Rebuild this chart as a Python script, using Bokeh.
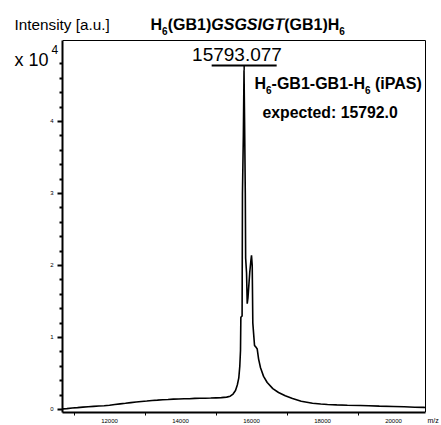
from bokeh.plotting import figure
from bokeh.models import Range1d, FixedTicker, Label
from bokeh.embed import file_html
from bokeh.resources import INLINE

# ---- data ----
mz = [10676, 10800, 10950, 11100, 11250, 11400, 11550, 11700, 11850, 12000,
      12150, 12300, 12450, 12600, 12750, 12900, 13050, 13200, 13350, 13500,
      13650, 13800, 13950, 14100, 14250, 14400, 14550, 14700, 14850, 15000,
      15150, 15300, 15400, 15480, 15549, 15600, 15642, 15670, 15690, 15700,
      15735, 15745, 15770, 15789, 15805, 15825, 15835, 15860, 15879, 15900,
      15950, 15985, 16000, 16020, 16037, 16060, 16085, 16120, 16161, 16200,
      16254, 16340, 16442, 16600, 16761, 16950, 17155, 17400, 17718, 17950,
      18141, 18400, 18700, 19070, 19300, 19600, 20000, 20300, 20600, 20845,
      20901]
intensity = [80, 120, 200, 260, 330, 380, 430, 480, 520, 580,
             690, 780, 860, 960, 1040, 1120, 1180, 1260, 1300, 1360,
             1390, 1440, 1460, 1500, 1490, 1540, 1560, 1570, 1590, 1620,
             1650, 1720, 1850, 2150, 2640, 3400, 4400, 6000, 8200, 12800,
             13000, 30000, 38000, 47100, 40000, 30000, 21000, 19000, 14700, 15500,
             19000, 20800, 21400, 20000, 12000, 10500, 8900, 8700, 8400, 7000,
             5800, 4600, 3750, 2900, 2360, 1900, 1530, 1150, 860, 760,
             700, 640, 590, 550, 520, 470, 420, 380, 320, 290,
             280]

x_major = [12000, 14000, 16000, 18000, 20000]
x_minor = [11000, 13000, 15000, 17000, 19000]
y_major = [0, 10000, 20000, 30000, 40000]
y_labels = ["0", "1", "2", "3", "4"]
y_minor = [v for v in range(2000, 50000, 2000) if v % 10000 != 0]

peak_mz = 15793.077
peak_label = "15793.077"

# plotted box limits (data)
X0, X1 = 10676, 20901
Y0, Y1 = -417, 51250

FONT = "Liberation Sans"
W, H = 441, 425
# page positions of the drawn box
BL, BR, BT, BB = 62, 425, 40, 412
# frame (clip area) is larger so that texts above the box are not clipped
FTOP, FRIGHT = 18, 427
XE = X0 + (FRIGHT - BL) / (BR - BL) * (X1 - X0)
YE = Y0 + (BB - FTOP) / (BB - BT) * (Y1 - Y0)

p = figure(width=W, height=H, output_backend="svg", toolbar_location=None,
           x_range=Range1d(X0, XE), y_range=Range1d(Y0, YE),
           min_border_left=BL, min_border_right=W - FRIGHT,
           min_border_top=FTOP, min_border_bottom=H - BB)
p.title.visible = False
p.background_fill_color = "white"
p.border_fill_color = "white"
p.outline_line_color = None
p.grid.visible = False

def dx(px):
    return X0 + (px - BL) / (BR - BL) * (X1 - X0)
def dy(py):
    return Y0 + (BB - py) / (BB - BT) * (Y1 - Y0)

xa = p.xaxis[0]
xa.bounds = (X0, X1)
xa.ticker = FixedTicker(ticks=x_major, minor_ticks=x_minor)
xa.axis_line_width = 2
xa.major_tick_out = 0
xa.major_tick_in = 0
xa.minor_tick_out = 3
xa.minor_tick_in = 0
xa.major_label_standoff = 3
xa.major_label_text_font = FONT
xa.major_label_text_font_size = "6px"
xa.major_label_text_color = "black"

ya = p.yaxis[0]
ya.bounds = (Y0, Y1)
ya.ticker = FixedTicker(ticks=y_major, minor_ticks=y_minor)
ya.major_label_overrides = dict(zip(y_major, y_labels))
ya.axis_line_width = 2
ya.major_tick_out = 5
ya.major_tick_in = 0
ya.major_tick_line_width = 2
ya.minor_tick_out = 3
ya.minor_tick_in = 0
ya.minor_tick_line_width = 2
ya.major_label_standoff = 4
ya.major_label_text_font = FONT
ya.major_label_text_font_size = "6px"
ya.major_label_text_color = "black"

# top and right edges of the box
p.segment(x0=[X0, X1], y0=[Y1, Y0], x1=[X1, X1], y1=[Y1, Y1],
          line_color="black", line_width=1)

p.line(mz, intensity, line_color="black", line_width=1.6)

# peak marker bar and tick
bar_half = (dx(276) - dx(211)) / 2
bar_y = dy(65)
p.segment(x0=[peak_mz - bar_half], y0=[bar_y], x1=[peak_mz + bar_half], y1=[bar_y],
          line_color="black", line_width=2)
p.segment(x0=[peak_mz], y0=[bar_y], x1=[peak_mz], y1=[max(intensity)],
          line_color="black", line_width=1.5)

def lab(text, px, py, size, style="normal", align="left", place=None):
    # py is the wanted baseline; the renderer places the text ~0.38 em lower
    fs = float(size.replace("px", ""))
    lb = Label(x=dx(px), y=dy(py - 0.38 * fs), text=text, text_font=FONT,
               text_font_size=size, text_font_style=style,
               text_align=align, text_baseline="alphabetic",
               text_color="black")
    if place is None:
        p.add_layout(lb)
    else:
        p.add_layout(lb, place)

# title (inside the enlarged frame)
lab("H", 150, 30, "16px", "bold")
lab("6", 161.6, 34, "10px", "bold")
lab("(GB1)", 167.2, 30, "16px", "bold")
lab("GSGSIGT", 210.8, 30, "16px", "bold italic")
lab("(GB1)H", 283.7, 30, "16px", "bold")
lab("6", 338.8, 34, "10px", "bold")

lab(peak_label, 236.5, 61, "19px", align="center")
lab("H", 254, 89, "16px", "bold")
lab("6", 265.5, 93, "10px", "bold")
lab("-GB1-GB1-H", 271.1, 89, "16px", "bold")
lab("6", 364.4, 93, "10px", "bold")
lab("(iPAS)", 374.4, 89, "16px", "bold")
lab("expected: 15792.0", 262, 118, "15.8px", "bold")

# texts outside the frame live in side panels (not clipped to the frame)
lab("Intensity [a.u.]", 14, 30, "15.3px", place="above")
lab("x 10", 14, 66, "18px", place="left")
lab("4", 51, 54, "12px", place="left")
lab("m/z", 427, 423, "7px", place="right")

html = file_html(p, INLINE)
html = html.replace("<head>", "<head><style>html,body{overflow:hidden;}</style>", 1)
open("out.html", "w").write(html)
